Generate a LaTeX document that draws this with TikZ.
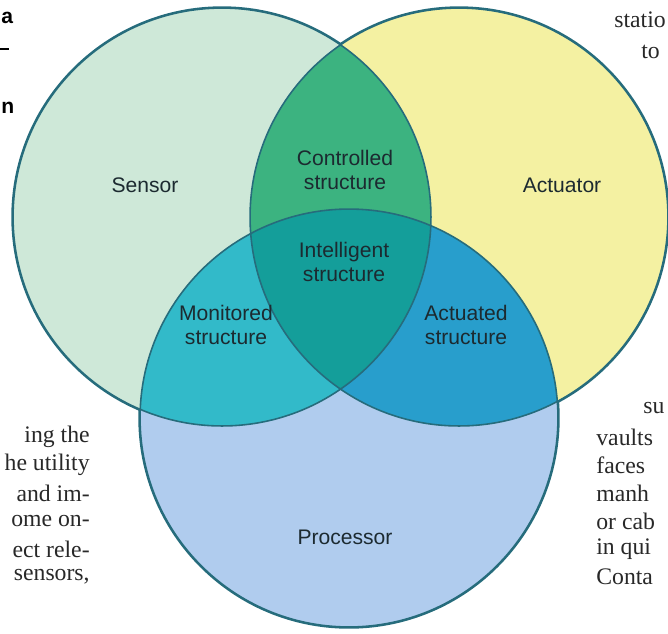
\documentclass[tikz,border=0pt]{standalone}
\usepackage{fontspec}
\setmainfont{Liberation Serif}
\setsansfont{Liberation Sans}
\usepackage{tikz}

\definecolor{sensorc}{RGB}{206,232,216}
\definecolor{actuatorc}{RGB}{244,241,162}
\definecolor{processorc}{RGB}{176,204,238}
\definecolor{controlledc}{RGB}{60,179,128}
\definecolor{monitoredc}{RGB}{50,186,201}
\definecolor{actuatedc}{RGB}{40,158,204}
\definecolor{intelligentc}{RGB}{20,158,154}
\definecolor{rimc}{RGB}{38,108,124}
\definecolor{inkc}{RGB}{28,42,48}
\definecolor{printc}{RGB}{40,40,40}

\begin{document}
\begin{tikzpicture}[x=0.02cm,y=-0.02cm]
            \tikzstyle{rim}=[draw=rimc,line width=0.9pt]
            \tikzstyle{outerrim}=[draw=rimc,line width=2pt]
            \tikzstyle{areatext}=[font=\sffamily\fontsize{12}{13.6}\selectfont,text=inkc,align=center,inner sep=0pt]
            \tikzstyle{pagetext}=[font=\fontsize{13.5}{15}\selectfont,text=printc,inner sep=0pt]
            \tikzstyle{headtext}=[font=\sffamily\bfseries\fontsize{12}{14}\selectfont,text=black,inner sep=0pt]
            \def\rad{4.18cm}

                \useasboundingbox (0,0) rectangle (668,633);
                \clip (0,0) rectangle (668,633);

                \coordinate (C-1) at (222,217);
                \coordinate (C-2) at (459,217);
                \coordinate (C-3) at (349,418);

                % heavier edge all round, the fills hide it inside
                \foreach \c in {1,2,3}
                    \path[outerrim] (C-\c) circle[radius=\rad];

                \foreach \c/\col in {1/sensorc, 2/actuatorc, 3/processorc}
                    \fill[\col] (C-\c) circle[radius=\rad];
                \begin{scope}
                    \clip (C-2) circle[radius=\rad];
                    \fill[actuatedc] (C-3) circle[radius=\rad];
                \end{scope}
                \begin{scope}
                    \clip (C-1) circle[radius=\rad];
                    \fill[controlledc] (C-2) circle[radius=\rad];
                    \fill[monitoredc] (C-3) circle[radius=\rad];
                    \clip (C-2) circle[radius=\rad];
                    \fill[intelligentc] (C-3) circle[radius=\rad];
                \end{scope}
                \foreach \c in {1,2,3}
                    \path[rim] (C-\c) circle[radius=\rad];

                \node[areatext] (L-1) at (145,185) {Sensor};
                \node[areatext] (L-2) at (345,170) {Controlled\\structure};
                \node[areatext] (L-3) at (562,185) {Actuator};
                \node[areatext] (L-4) at (344,262) {Intelligent\\structure};
                \node[areatext] (L-5) at (226,325) {Monitored\\structure};
                \node[areatext] (L-6) at (466,325) {Actuated\\structure};
                \node[areatext] (L-7) at (345,537) {Processor};

                \node[headtext,anchor=west] (H-1) at (1,18) {a};
                \node[headtext,anchor=west] (H-2) at (1,108) {n};
                \coordinate (H-3) at (0,49);
                \coordinate (H-4) at (9,49);
                \draw[black,line width=0.8pt] (H-3) -- (H-4);

                \foreach \t [count=\i] in {ing the, he utility, and im-, ome on-, ect rele-, {sensors,}}
                    \node[pagetext,anchor=east] (T-\i) at (90,409+28*\i) {\t};

                \node[pagetext,anchor=west] (R-0) at (643,408) {su};
                \foreach \t [count=\i] in {vaults, faces, manh, or cab, in qui, Conta}
                    \node[pagetext,anchor=west] (R-\i) at (596,409+28*\i) {\t};
                \node[pagetext,anchor=west] (R-7) at (614,20) {statio};
                \node[pagetext,anchor=west] (R-8) at (641,52) {to};
\end{tikzpicture}
\end{document}
